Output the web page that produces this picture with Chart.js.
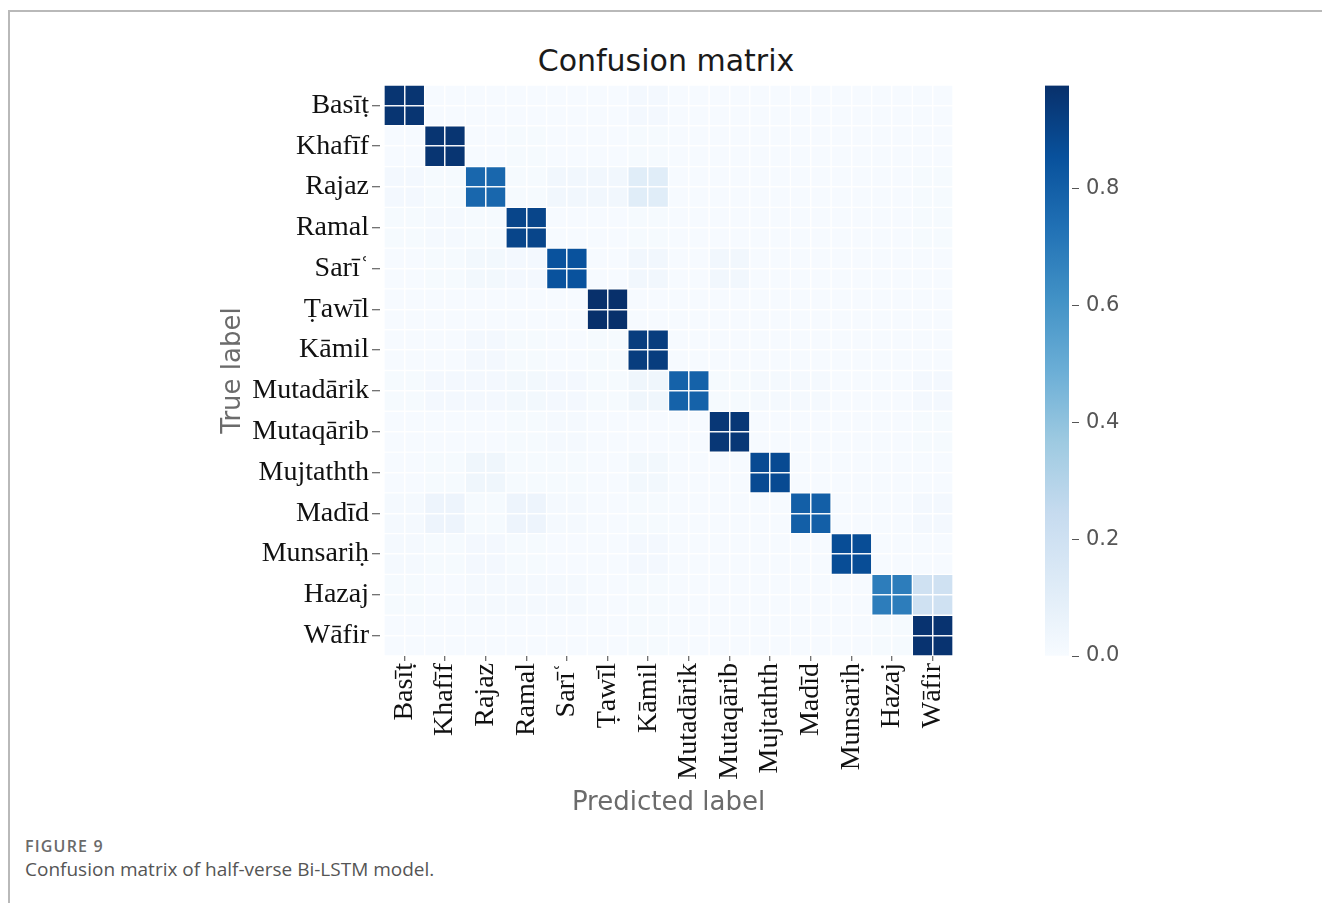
<!DOCTYPE html>
<html lang="en">
  <head>
    <meta charset="UTF-8" />
    <title>Confusion matrix</title>
    <script src="https://cdn.jsdelivr.net/npm/chart.js@4.4.1/dist/chart.umd.min.js"></script>
    <style>
      body {
        margin: 0;
        background: #ffffff;
        width: 1322px;
        height: 903px;
        position: relative;
        overflow: hidden;
      }
      #frame {
        position: absolute;
        left: 8px;
        top: 10px;
        right: 0;
        bottom: 0;
        border-top: 2px solid #b9b9b9;
        border-left: 2px solid #b9b9b9;
      }
      #title {
        position: absolute;
        left: 0;
        width: 1332px;
        top: 43px;
        text-align: center;
        font-family: "DejaVu Sans", sans-serif;
        font-size: 30px;
        color: #1a1a1a;
      }
      #matrix {
        position: absolute;
        left: 200px;
        top: 60px;
      }
      #colorbar {
        position: absolute;
        left: 1045px;
        top: 66px;
      }
      .fig-label {
        position: absolute;
        left: 25px;
        top: 835px;
        font-family: "Open Sans", sans-serif;
        font-weight: 600;
        font-size: 16px;
        letter-spacing: 1.2px;
        color: #6a6a6a;
      }
      .fig-caption {
        position: absolute;
        left: 25px;
        top: 856px;
        font-family: "Open Sans", sans-serif;
        font-size: 19px;
        color: #555555;
      }
    </style>
  </head>
  <body>
    <div id="frame"></div>
    <div id="title">Confusion matrix</div>
    <canvas id="matrix" width="800" height="780"></canvas>
    <canvas id="colorbar" width="120" height="610"></canvas>
    <div class="fig-label">FIGURE 9</div>
    <div class="fig-caption">Confusion matrix of half-verse Bi-LSTM model.</div>

    <script>
      // metres (true and predicted use the same order)
      const meters = [
        "Basīṭ", "Khafīf", "Rajaz", "Ramal", "Sarīʿ", "Ṭawīl", "Kāmil",
        "Mutadārik", "Mutaqārib", "Mujtathth", "Madīd", "Munsariḥ", "Hazaj", "Wāfir",
      ];

      // normalised confusion matrix, one row per true label
      const rowBasit     = [0.96, 0.005, 0.005, 0.005, 0.005, 0.005, 0.02, 0.005, 0.005, 0.005, 0.005, 0.005, 0.005, 0.005];
      const rowKhafif    = [0.005, 0.96, 0.005, 0.01, 0.005, 0.005, 0.01, 0.005, 0.005, 0.005, 0.005, 0.005, 0.005, 0.005];
      const rowRajaz     = [0.02, 0.01, 0.77, 0.01, 0.03, 0.03, 0.11, 0.005, 0.005, 0.005, 0.005, 0.005, 0.005, 0.01];
      const rowRamal     = [0.01, 0.015, 0.01, 0.9, 0.005, 0.005, 0.01, 0.005, 0.005, 0.005, 0.005, 0.005, 0.005, 0.01];
      const rowSari      = [0.005, 0.01, 0.025, 0.02, 0.85, 0.005, 0.03, 0.005, 0.03, 0.005, 0.005, 0.005, 0.005, 0.005];
      const rowTawil     = [0.005, 0.005, 0.005, 0.005, 0.005, 0.977, 0.005, 0.005, 0.005, 0.005, 0.005, 0.005, 0.005, 0.005];
      const rowKamil     = [0.005, 0.005, 0.02, 0.01, 0.005, 0.01, 0.93, 0.005, 0.005, 0.005, 0.005, 0.005, 0.005, 0.005];
      const rowMutadarik = [0.01, 0.02, 0.02, 0.025, 0.02, 0.01, 0.04, 0.79, 0.01, 0.015, 0.015, 0.005, 0.005, 0.02];
      const rowMutaqarib = [0.005, 0.005, 0.005, 0.01, 0.015, 0.005, 0.005, 0.005, 0.95, 0.005, 0.005, 0.005, 0.005, 0.01];
      const rowMujtathth = [0.005, 0.01, 0.04, 0.01, 0.01, 0.005, 0.025, 0.005, 0.005, 0.88, 0.005, 0.005, 0.005, 0.005];
      const rowMadid     = [0.015, 0.05, 0.01, 0.05, 0.015, 0.005, 0.01, 0.005, 0.005, 0.005, 0.8, 0.005, 0.005, 0.02];
      const rowMunsarih  = [0.015, 0.01, 0.02, 0.01, 0.005, 0.005, 0.02, 0.005, 0.005, 0.005, 0.005, 0.87, 0.005, 0.005];
      const rowHazaj     = [0.01, 0.005, 0.015, 0.015, 0.015, 0.005, 0.01, 0.005, 0.005, 0.005, 0.005, 0.005, 0.69, 0.2];
      const rowWafir     = [0.005, 0.005, 0.005, 0.005, 0.005, 0.005, 0.01, 0.005, 0.005, 0.005, 0.005, 0.005, 0.01, 0.965];

      const matrix = [
        rowBasit, rowKhafif, rowRajaz, rowRamal, rowSari, rowTawil, rowKamil,
        rowMutadarik, rowMutaqarib, rowMujtathth, rowMadid, rowMunsarih, rowHazaj, rowWafir,
      ];

      const colorbarTicks = [0, 0.2, 0.4, 0.6, 0.8];

      // matplotlib "Blues"
      const blues = [
        "#f7fbff", "#deebf7", "#c6dbef", "#9ecae1", "#6baed6",
        "#4292c6", "#2171b5", "#08519c", "#08306b",
      ];

      const vmax = Math.max(...matrix.map((r) => Math.max(...r)));

      function hexToRgb(h) {
        return [1, 3, 5].map((i) => parseInt(h.slice(i, i + 2), 16));
      }

      function bluesColor(v) {
        let t = Math.min(Math.max(v / vmax, 0), 1) * (blues.length - 1);
        const i = Math.min(Math.floor(t), blues.length - 2);
        const f = t - i;
        const a = hexToRgb(blues[i]);
        const b = hexToRgb(blues[i + 1]);
        const c = a.map((x, k) => Math.round(x + (b[k] - x) * f));
        return `rgb(${c[0]}, ${c[1]}, ${c[2]})`;
      }

      const serifTicks = { family: "'Liberation Serif', 'Times New Roman', serif", size: 28 };
      const axisTitleFont = { family: "'DejaVu Sans', sans-serif", size: 26 };

      // one floating-bar dataset per true label row
      const datasets = matrix.map((row, r) => ({
        label: meters[r],
        data: row.map(() => [r, r + 1]),
        backgroundColor: row.map((v) => bluesColor(v)),
        borderColor: "rgba(255, 255, 255, 0.4)",
        borderWidth: 1,
        borderSkipped: false,
        barPercentage: 1,
        categoryPercentage: 1,
        grouped: false,
      }));

      new Chart(document.getElementById("matrix"), {
        type: "bar",
        data: { labels: meters, datasets: datasets },
        options: {
          responsive: false,
          animation: false,
          layout: { padding: { top: 25, right: 47, bottom: 0, left: 0 } },
          plugins: { legend: { display: false }, tooltip: { enabled: false } },
          scales: {
            x: {
              type: "category",
              offset: true,
              border: { display: false },
              grid: {
                z: 1,
                offset: false,
                color: "rgba(255, 255, 255, 0.95)",
                lineWidth: 1.5,
                tickColor: "#444",
                tickLength: 5,
                tickWidth: 1,
              },
              ticks: {
                autoSkip: false,
                maxRotation: 90,
                minRotation: 90,
                padding: 2,
                color: "#111",
                font: serifTicks,
              },
              title: {
                display: true,
                text: "Predicted label",
                color: "#6b6b6b",
                font: axisTitleFont,
                padding: { top: 0, bottom: 21 },
              },
              afterFit: (scale) => {
                scale.height = 184;
              },
            },
            y: {
              type: "linear",
              min: 0,
              max: meters.length,
              reverse: true,
              border: { display: false },
              grid: {
                z: 1,
                color: "rgba(255, 255, 255, 0.95)",
                lineWidth: 1.5,
                tickColor: "#444",
                tickLength: 12,
                tickWidth: 1,
                tickBorderDash: [8, 100],
              },
              ticks: {
                autoSkip: false,
                padding: 3,
                color: "#111",
                font: serifTicks,
                callback: (v, i) => meters[i],
              },
              afterBuildTicks: (scale) => {
                scale.ticks = meters.map((m, i) => ({ value: i + 0.5 }));
              },
              title: {
                display: true,
                text: "True label",
                color: "#6b6b6b",
                font: axisTitleFont,
                padding: { top: 18, bottom: 0 },
              },
              afterFit: (scale) => {
                scale.width = 184;
              },
            },
          },
        },
      });

      // colour bar
      new Chart(document.getElementById("colorbar"), {
        type: "bar",
        data: {
          labels: [""],
          datasets: [
            {
              data: [[0, vmax]],
              barPercentage: 1,
              categoryPercentage: 1,
              borderWidth: 0,
              backgroundColor: (ctx) => {
                const chart = ctx.chart;
                if (!chart.chartArea) return blues[4];
                const y = chart.scales.y;
                const g = chart.ctx.createLinearGradient(0, y.getPixelForValue(0), 0, y.getPixelForValue(vmax));
                blues.forEach((c, i) => g.addColorStop(i / (blues.length - 1), c));
                return g;
              },
            },
          ],
        },
        options: {
          responsive: false,
          animation: false,
          layout: { padding: { top: 19, right: 0, bottom: 20, left: 0 } },
          plugins: { legend: { display: false }, tooltip: { enabled: false } },
          scales: {
            x: { display: false },
            y: {
              position: "right",
              min: 0,
              max: vmax,
              border: { display: false },
              grid: {
                drawOnChartArea: false,
                tickColor: "#555",
                tickLength: 10,
                tickWidth: 1.2,
                tickBorderDash: [0, 3, 7, 100],
              },
              ticks: {
                padding: 7,
                color: "#555",
                font: { family: "'DejaVu Sans', sans-serif", size: 21 },
                callback: (v) => v.toFixed(1),
              },
              afterBuildTicks: (scale) => {
                scale.ticks = colorbarTicks.map((v) => ({ value: v }));
              },
              afterFit: (scale) => {
                scale.width = 96;
              },
            },
          },
        },
      });
    </script>
  </body>
</html>
